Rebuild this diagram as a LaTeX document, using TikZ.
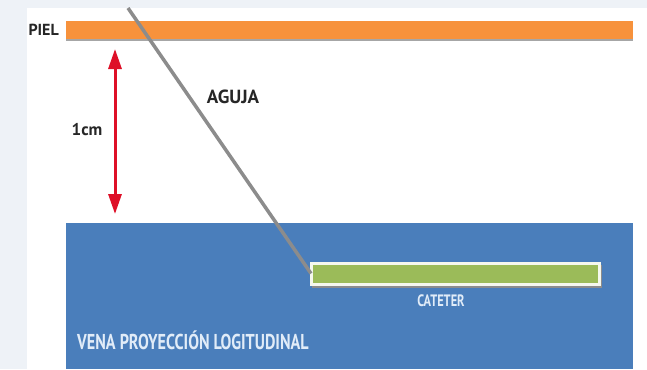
\documentclass[tikz,border=0pt]{standalone}
\usepackage{fontspec}
\setmainfont{PT Sans}
\newfontfamily\estrecha{PT Sans}[FakeStretch=0.75]
\usetikzlibrary{positioning, arrows.meta}

\definecolor{pielorange}{RGB}{247,146,60}
\definecolor{venablue}{RGB}{74,126,187}
\definecolor{catgreen}{RGB}{155,187,89}
\definecolor{agujagray}{RGB}{140,140,140}
\definecolor{flecha}{RGB}{222,16,40}
\definecolor{fondo}{RGB}{238,242,247}
\definecolor{rotulo}{RGB}{225,236,248}

\begin{document}
\begin{tikzpicture}[
    x=1pt, y=-1pt,
    capa/.style={rectangle, inner sep=0pt, outer sep=0pt, anchor=north west},
    etiqueta/.style={font=\fontsize{16}{16}\selectfont\bfseries, text=black!85, inner sep=0pt},
    rotulovena/.style={font=\estrecha\bfseries\fontsize{21.5}{21.5}\selectfont, text=rotulo, inner sep=0pt},
    arrow/.style={{Triangle[length=20pt, width=13pt]}-{Triangle[length=20pt, width=13pt]}, line width=3pt, draw=flecha}
]

    % Background
    \fill[fondo] (0,0) rectangle (647,369);
    \fill[white] (27,8) rectangle (647,369);
    \useasboundingbox (0,0) rectangle (647,369);

    % Skin
    \fill[black!35] (66,23) rectangle (633,41);
    \node[capa, fill=pielorange, minimum width=567pt, minimum height=18pt] (piel) at (66,21) {};
    \node[etiqueta, anchor=east] (pielLbl) at (59,30) {PIEL};

    % Vein
    \node[capa, fill=venablue, minimum width=567pt, minimum height=146pt] (vena) at (66,223) {};
    \node[rotulovena, anchor=west] (venaLbl) at (77,340) {VENA PROYECCIÓN LOGITUDINAL};

    % Catheter
    \fill[black!45] (312,265) rectangle (602,288);
    \node[capa, fill=catgreen, draw=white!90!catgreen, line width=3pt,
          minimum width=288pt, minimum height=21pt] (cateter) at (311,263) {};
    \node[rotulovena, font=\estrecha\bfseries\fontsize{16.5}{16.5}\selectfont,
          below=11pt of cateter, xshift=-14pt] (catLbl) {CATETER};

    % Needle
    \coordinate (punta) at (128,8);
    \draw[agujagray, line width=3.5pt] (punta) -- (cateter.west);
    \node[etiqueta, font=\fontsize{19}{19}\selectfont\bfseries] (agujaLbl) at (233,97) {AGUJA};

    % Depth
    \coordinate (arriba) at (115,49);
    \coordinate (abajo) at (115,214);
    \draw[arrow] (arriba) -- (abajo);
    \node[etiqueta, font=\fontsize{17}{17}\selectfont\bfseries] (profLbl) at (87,130) {1cm};

\end{tikzpicture}
\end{document}
